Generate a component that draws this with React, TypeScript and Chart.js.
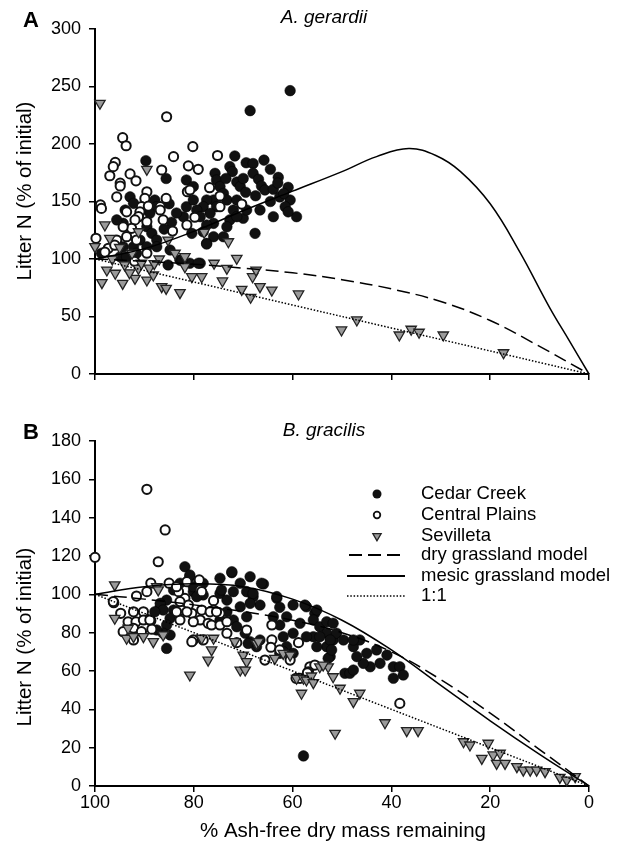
import React, { useEffect, useRef } from "react";
import { Chart, registerables } from "chart.js";

Chart.register(...registerables);

const FONT = "'Liberation Sans', Arial, Helvetica, sans-serif";

type P = [number, number];

// ---------- Panel A: A. gerardii ----------
const aCedarCreek: P[] = [
  [68.6, 229], [60.5, 246.4], [89.7, 185.5], [85.6, 170], [71.7, 189.6], [69.4, 183.7], [68, 183], [65.8, 186],
  [72.7, 180.3], [72.2, 176], [71.3, 167], [70.6, 163], [75.7, 174.5], [75.4, 168.7], [74.7, 163], [74, 157],
  [73.3, 151.3], [68, 174.5], [66.9, 169.3], [66.3, 163.5], [65.6, 160], [63.9, 160.6], [62.9, 171], [62.6, 154],
  [60.9, 162.3], [60.5, 151.3], [61.5, 145.5], [59.2, 136.8], [63.9, 136.8], [60.9, 141], [66.6, 142.6], [67.6, 122.3],
  [70, 135.4], [69.3, 142.6], [71.3, 151.3], [72, 142.6], [72.7, 134], [73.3, 128], [71.3, 136.8], [76, 151.3],
  [75.4, 145.5], [77.4, 151.3], [78.1, 145.5], [76.7, 139.7], [76, 131], [77.4, 129.6], [78.1, 123.7], [76, 119.4],
  [74, 119.4], [77.4, 113.6], [81.5, 145.5], [80.1, 151.3], [79.4, 142.6], [78.7, 136.8], [82.1, 136.8], [80.4, 122.3],
  [81.5, 168.7], [80.1, 163], [92.9, 154], [93.9, 142.6], [92.2, 148.4], [94.3, 131], [87.9, 151.3], [87.5, 145.5],
  [88.9, 139.7], [89.5, 128], [88.5, 122.3], [87.5, 116.5], [90.9, 116.5], [92.2, 110.7], [94.3, 110.7], [95.6, 134],
  [94.9, 102], [93.6, 102], [91.6, 105], [89.5, 110.7], [87.5, 110.7], [84.8, 107.8], [82.8, 99], [80.8, 96.3],
  [78.7, 96.3], [77.4, 113], [79.1, 96.3], [85.2, 94.8], [82.4, 99], [98.7, 105], [64.5, 178], [63, 166],
  [61.8, 157], [64.5, 150], [67.5, 155], [69.5, 158], [70, 170], [73.5, 170], [84.5, 132], [86, 126], [83.5, 140], [85, 148],
];

const aCentralPlains: P[] = [
  [85.5, 223.7], [94.4, 205.5], [93.7, 198.5], [80.2, 197.7], [75.2, 190], [84.1, 189], [95.9, 184], [96.3, 180.3],
  [97, 172.4], [92.9, 174], [91.7, 168], [86.5, 177.4], [81.1, 181], [79.1, 178], [94.9, 166], [94.9, 163.5],
  [81.3, 158.5], [76.8, 162], [95.6, 154], [89.5, 158.5], [85.6, 152.7], [74.7, 154.8], [70.3, 147.8], [98.9, 147],
  [98.7, 144], [89.9, 152.7], [90.6, 145.5], [89.2, 146], [90.9, 141], [91.2, 136.8], [89.5, 132.4], [86.8, 145.5],
  [86.8, 142.6], [86.2, 134], [93.6, 141], [91.9, 134], [92.6, 126.7], [94.3, 128], [93.6, 119.4], [95.6, 116.5],
  [97.3, 109.3], [99.8, 118], [91.6, 116.5], [89.5, 105], [84.3, 124.3], [81.4, 129.6], [79.8, 136.3], [74.7, 145.5],
  [80.8, 160], [96, 112], [98, 106], [92, 98],
];

const aSevilleta: P[] = [
  [99, 235.4], [89.5, 178], [98, 129.6], [100, 110.7], [91.2, 123.7], [97.6, 90.4], [98.6, 79.4], [94.4, 78.8],
  [95.9, 87.6], [91.9, 83.2], [89.5, 81.7], [88.2, 86.1], [91.2, 91.9], [90.6, 96.3], [85.2, 116.5], [83.8, 105],
  [81.8, 102], [86.5, 76], [85.6, 74.5], [82.8, 70.7], [80.4, 84.6], [78.4, 84.6], [77.9, 123.2], [75.9, 96.3],
  [73.3, 91.9], [73, 115], [74.2, 80.9], [71.3, 100.6], [70.3, 73.6], [68.5, 66.7], [68.1, 84.6], [67.4, 90.4],
  [66.6, 76], [64.2, 73], [58.8, 69.6], [81.8, 93.3], [50.1, 38.3], [47, 47], [38.4, 33.9], [36, 38.9],
  [34.4, 36.3], [29.5, 33.9], [17.3, 18.5], [96.5, 100], [94, 95], [93, 88], [89, 92], [87, 100],
  [92.5, 105], [95, 110], [97, 118], [88, 96],
];

const aDryModel: P[] = [
  [100, 100], [90, 98], [80, 95.5], [70, 92], [60, 88], [50, 82], [40, 74], [30, 63],
  [20, 46.5], [10, 24], [0, 0],
];

const aMesicModel: P[] = [
  [100, 100], [90, 109], [80, 124], [70, 142], [60, 159], [50, 176], [43, 189], [36.5, 196],
  [31, 190], [26, 176], [20, 148], [14, 106], [8, 58], [4, 29], [0, 0],
];

const oneToOne: P[] = [[100, 100], [0, 0]];

// ---------- Panel B: B. gracilis ----------
const bCedarCreek: P[] = [
  [81.8, 114.4], [80.8, 109.2], [74.7, 108.4], [72.3, 111.3], [68.6, 109.2], [65.9, 105.4], [70.6, 105.8], [72, 101.4],
  [74.7, 100.5], [69.3, 101.4], [68, 98.8], [66.6, 94.4], [63.2, 97.9], [62.6, 93.2], [59.9, 94.4], [57.2, 93.5],
  [78.1, 99.7], [80.1, 101.4], [85.5, 97], [86.8, 93.5], [84.1, 91.8], [55.5, 90.1], [85.5, 71.8], [86.8, 95.3],
  [86.2, 91.8], [84.8, 87.5], [85.5, 84], [86.2, 79.7], [87.5, 81.4], [88.9, 86.6], [87.9, 90.9], [84.8, 78.8],
  [80.8, 110.1], [82.8, 105.8], [84.1, 102.3], [80.1, 104], [79.4, 98.8], [78.1, 105.8], [72.3, 111.8], [66.3, 105.8],
  [74.4, 102.3], [73.3, 97], [70.6, 93.5], [73.3, 90.9], [74.7, 86.6], [72, 86.6], [71.3, 83.1], [69.3, 88.3],
  [68.6, 95.3], [68, 100.5], [69.6, 79.7], [68.6, 75.3], [66.6, 76.2], [67.3, 72.7], [63.2, 98.8], [63.9, 88.3],
  [62.6, 84], [61.2, 88.3], [59.9, 79.7], [61.9, 77.9], [58.5, 84.9], [55.1, 91.8], [55.8, 86.6], [54.5, 83.1],
  [55.8, 77.9], [53.1, 79.7], [53.1, 72.7], [52.4, 67.5], [51.8, 76.2], [55.1, 72.7], [61.2, 72.7], [62.6, 69.2],
  [59.9, 69.2], [57.8, 15.7], [69, 74.4], [61.9, 70.1], [52.8, 66.6], [49.4, 58.8], [57.5, 94.4], [53.1, 85.7],
  [51.8, 84.9], [51.1, 79.7], [52.4, 76.2], [54.5, 77.9], [57.2, 77.9], [49.7, 76.2], [47.7, 72.7], [46.4, 76.2],
  [45, 69.2], [43, 71], [40.9, 68.3], [42.3, 64], [44.3, 62.2], [45.7, 64], [48.4, 58.8], [47.7, 60.5],
  [39.6, 62.2], [38.3, 62.2], [37.6, 57.9], [39.6, 56.2], [47, 67.5], [52.1, 71], [47.7, 76.2],
];

const bCentralPlains: P[] = [
  [100, 119.3], [89.5, 154.8], [85.8, 133.6], [87.2, 117], [88.7, 105.8], [89.5, 101.4], [91.6, 99.1], [96.2, 95.6],
  [94.8, 90.1], [92.2, 90.9], [90.2, 90.9], [93.3, 85.7], [91.7, 85.7], [90.2, 86.6], [88.7, 86.2], [85, 105.8],
  [81.4, 106.6], [78.9, 107.5], [78.7, 102.3], [81.8, 97.9], [81.1, 94.4], [83.1, 101.4], [82.5, 91.8], [80.4, 90.1],
  [78.4, 91.8], [76, 96.7], [76, 91.8], [74.7, 90.1], [78.7, 86.6], [82.8, 86.6], [77.1, 84.9], [92.2, 82.3],
  [90.6, 80.5], [88.5, 81.8], [94.3, 80.5], [92.2, 76.2], [83.5, 104], [82.8, 96.2], [83.5, 90.9], [80.1, 85.7],
  [81.4, 90.9], [76.7, 90.9], [75.4, 90.9], [76.4, 84], [74.7, 84], [73.3, 85.7], [73.3, 79.7], [80.1, 76.2],
  [78.1, 76.2], [69.3, 81.4], [64.2, 84], [64.2, 76.2], [64.4, 72.4], [65.6, 65.7], [62.6, 71], [60.5, 65.7],
  [58.8, 74.8], [56.5, 62.2], [55.5, 63.1], [56.8, 59.6], [59.3, 56.2], [58.5, 56.2], [80.4, 75.3], [71.3, 74.8],
  [57, 59.1], [38.3, 43.1], [96.3, 96.2], [88.9, 86.6], [78.4, 101.4],
];

const bSevilleta: P[] = [
  [96, 104.9], [96, 87.5], [87.5, 104], [93.6, 77.1], [92.2, 77.9], [90.2, 77.9], [88.2, 75.3], [86.2, 78.8],
  [93.3, 82.3], [87.2, 102.3], [78.4, 77.1], [76, 77.1], [76.4, 71], [77.1, 65.7], [80.8, 57.9], [71.7, 75.3],
  [70, 68.3], [69.3, 64.9], [70.6, 60.5], [69.6, 60.5], [67.3, 74.4], [63.6, 66.6], [61.9, 69.2], [60.5, 68.3],
  [58.2, 48.4], [59.2, 56.2], [57.8, 56.2], [57.2, 55.3], [56.2, 57.4], [55.8, 53.9], [54.5, 62.2], [52.8, 62.2],
  [51.8, 57], [66.9, 75.3], [51.4, 27.5], [53.8, 63.1], [50.4, 51], [47.7, 44], [46.4, 48.4], [41.3, 33],
  [36.9, 28.9], [34.6, 28.9], [25.4, 23.1], [24.1, 21.4], [20.4, 22.3], [21.7, 14.4], [19.4, 16.2], [18, 17.1],
  [18.7, 11.8], [17, 11.8], [14.6, 10.1], [13.3, 8.3], [11.9, 8.3], [10.6, 8.3], [8.9, 7.5], [5.9, 4.5],
  [4.5, 3.1], [2.8, 4.9],
];

const bDryModel: P[] = [
  [100, 100], [90, 97.5], [80, 94.5], [70, 91], [60, 86.5], [50, 80], [40, 70], [30, 55.5],
  [20, 38], [10, 19], [0, 0],
];

const bMesicModel: P[] = [
  [100, 100], [90, 104], [80, 105.5], [70, 104], [60, 97.5], [50, 86.5], [40, 71], [30, 52.5],
  [20, 34], [10, 16.5], [0, 0],
];

const seriesNames = ["Cedar Creek", "Central Plains", "Sevilleta", "dry grassland model", "mesic grassland model", "1:1"];
const axisTitleY = "Litter N (% of initial)";
const axisTitleX = "% Ash-free dry mass remaining";

const toXY = (arr: P[]) => arr.map(([x, y]) => ({ x, y }));

const DASH = [13, 6];
const DOT = [1.5, 1.8];

function datasets(cedar: P[], central: P[], sev: P[], dry: P[], mesic: P[]) {
  const line = (label: string, data: P[], dash: number[]) => ({
    label,
    data: toXY(data),
    showLine: true,
    borderColor: "#000",
    borderWidth: 1.5,
    borderDash: dash,
    pointRadius: 0,
    fill: false,
    tension: 0.4,
    clip: false,
  });
  return [
    line(seriesNames[3], dry, DASH),
    line(seriesNames[4], mesic, []),
    line(seriesNames[5], oneToOne, DOT),
    {
      label: seriesNames[2],
      data: toXY(sev),
      pointStyle: "triangle",
      rotation: 180,
      pointRadius: 6,
      backgroundColor: "#9a9a9a",
      borderColor: "#222",
      borderWidth: 1.3,
      clip: false,
    },
    {
      label: seriesNames[1],
      data: toXY(central),
      pointStyle: "circle",
      pointRadius: 4.6,
      backgroundColor: "#fff",
      borderColor: "#111",
      borderWidth: 2,
      clip: false,
    },
    {
      label: seriesNames[0],
      data: toXY(cedar),
      pointStyle: "circle",
      pointRadius: 5.3,
      backgroundColor: "#111",
      borderColor: "#000",
      borderWidth: 0.5,
      clip: false,
    },
  ];
}

function textPlugin(o: any) {
  return {
    id: "panelText" + o.letter,
    afterDraw(chart: any) {
      const ctx = chart.ctx as CanvasRenderingContext2D;
      ctx.save();
      ctx.fillStyle = "#000";
      ctx.textAlign = "center";
      ctx.textBaseline = "middle";
      ctx.font = `bold 22px ${FONT}`;
      ctx.fillText(o.letter, 31, o.letterY);
      ctx.font = `italic 19px ${FONT}`;
      ctx.fillText(o.title, 324, o.titleY);
      if (o.xTitleY) {
        ctx.font = `20.5px ${FONT}`;
        ctx.fillText(axisTitleX, 343, o.xTitleY);
      }
      ctx.save();
      ctx.translate(25, o.yTitleY);
      ctx.rotate(-Math.PI / 2);
      ctx.font = `20.5px ${FONT}`;
      ctx.fillText(axisTitleY, 0, 0);
      ctx.restore();

      if (o.legend) {
        const rows = [94, 115, 136, 155, 176, 196];
        const mx = 377;
        ctx.font = `18.5px ${FONT}`;
        ctx.textAlign = "left";
        rows.forEach((ry, i) => {
          ctx.fillStyle = "#000";
          ctx.fillText(seriesNames[i], 421, ry);
          ctx.beginPath();
          if (i === 0) {
            ctx.arc(mx, ry, 4.5, 0, Math.PI * 2);
            ctx.fillStyle = "#111";
            ctx.fill();
          } else if (i === 1) {
            ctx.arc(mx, ry, 3.3, 0, Math.PI * 2);
            ctx.fillStyle = "#fff";
            ctx.fill();
            ctx.lineWidth = 1.8;
            ctx.strokeStyle = "#111";
            ctx.stroke();
          } else if (i === 2) {
            const r = 4.8;
            ctx.moveTo(mx, ry + r);
            ctx.lineTo(mx - r * 0.866, ry - r * 0.5);
            ctx.lineTo(mx + r * 0.866, ry - r * 0.5);
            ctx.closePath();
            ctx.fillStyle = "#9a9a9a";
            ctx.fill();
            ctx.lineWidth = 1.3;
            ctx.strokeStyle = "#222";
            ctx.stroke();
          } else {
            ctx.setLineDash(i === 3 ? DASH : i === 5 ? DOT : []);
            ctx.lineWidth = i === 5 ? 1.3 : 1.8;
            ctx.strokeStyle = "#000";
            ctx.moveTo(i === 3 ? 349 : 347, ry);
            ctx.lineTo(405, ry);
            ctx.stroke();
            ctx.setLineDash([]);
          }
        });
      }
      ctx.restore();
    },
  };
}

function scaleOpts(max: number, step: number, showX: boolean, xHeight: number) {
  const grid = { drawOnChartArea: false, drawTicks: true, tickLength: 6, color: "#000", lineWidth: 1.5 };
  const border = { display: true, color: "#000", width: 2 };
  return {
    x: {
      type: "linear",
      reverse: true,
      min: 0,
      max: 100,
      grid,
      border,
      ticks: { stepSize: 20, display: showX, color: "#000", padding: 2, font: { family: FONT, size: 18, lineHeight: 1 } },
      afterFit: (s: any) => { s.height = xHeight; },
    },
    y: {
      type: "linear",
      min: 0,
      max,
      grid,
      border,
      ticks: { stepSize: step, color: "#000", padding: 8, font: { family: FONT, size: 18 } },
      afterFit: (s: any) => { s.width = 95; },
    },
  };
}

function makeChart(canvas: HTMLCanvasElement, panel: "A" | "B") {
  const isA = panel === "A";
  const ds = isA
    ? datasets(aCedarCreek, aCentralPlains, aSevilleta, aDryModel, aMesicModel)
    : datasets(bCedarCreek, bCentralPlains, bSevilleta, bDryModel, bMesicModel);
  return new Chart(canvas, {
    type: "scatter",
    data: { datasets: ds as any },
    options: {
      responsive: false,
      animation: false,
      devicePixelRatio: 1,
      layout: { padding: { left: 0, right: 36, top: isA ? 29 : 41, bottom: 0 } },
      scales: (isA ? scaleOpts(300, 50, false, 26) : scaleOpts(180, 20, true, 64)) as any,
      plugins: { legend: { display: false }, tooltip: { enabled: false }, title: { display: false } },
    },
    plugins: [
      textPlugin(
        isA
          ? { letter: "A", letterY: 21, title: "A. gerardii", titleY: 18, yTitleY: 191 }
          : { letter: "B", letterY: 33, title: "B. gracilis", titleY: 31, yTitleY: 237, xTitleY: 431, legend: true }
      ),
    ],
  } as any);
}

export default function App() {
  const refA = useRef<HTMLCanvasElement>(null);
  const refB = useRef<HTMLCanvasElement>(null);
  useEffect(() => {
    const cA = makeChart(refA.current!, "A");
    const cB = makeChart(refB.current!, "B");
    return () => {
      cA.destroy();
      cB.destroy();
    };
  }, []);
  return (
    <div style={{ position: "absolute", left: 0, top: 0, width: 625, height: 850, background: "#fff" }}>
      <canvas ref={refA} width={625} height={400} style={{ position: "absolute", left: 0, top: 0, width: 625, height: 400 }} />
      <canvas ref={refB} width={625} height={450} style={{ position: "absolute", left: 0, top: 400, width: 625, height: 450 }} />
    </div>
  );
}
